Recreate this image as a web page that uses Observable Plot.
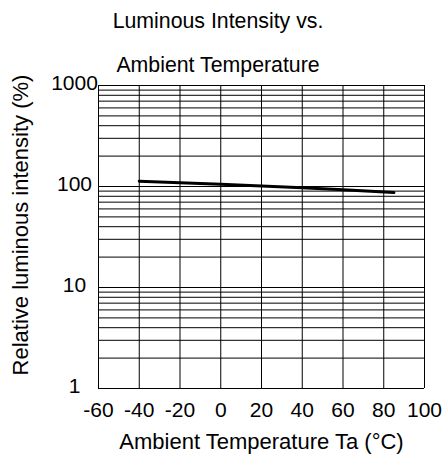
<!DOCTYPE html>
<html>
<head>
<meta charset="utf-8">
<script src="https://cdn.jsdelivr.net/npm/d3@7"></script>
<script src="https://cdn.jsdelivr.net/npm/@observablehq/plot@0.6"></script>
<style>
  html, body { margin: 0; padding: 0; background: #fff; }
  #wrap { position: relative; width: 445px; height: 466px; font-family: "Liberation Sans", Arial, sans-serif; }
  #title { position: absolute; left: 0; top: -1px; width: 436px; text-align: center; font-size: 21.3px; line-height: 44px; color: #000; z-index: 2; pointer-events: none; }
</style>
</head>
<body>
<div id="wrap">
  <div id="title">Luminous Intensity vs.<br>Ambient Temperature</div>
  <div id="chart"></div>
</div>
<script>
const titleLines = ["Luminous Intensity vs.", "Ambient Temperature"];
const xLabel = "Ambient Temperature Ta (°C)";
const yLabel = "Relative luminous intensity (%)";
const xTicks = [-60, -40, -20, 0, 20, 40, 60, 80, 100];
const yTicks = [1, 10, 100, 1000];
const yGrid = [1, 2, 3, 4, 5, 6, 7, 8, 9, 10, 20, 30, 40, 50, 60, 70, 80, 90, 100, 200, 300, 400, 500, 600, 700, 800, 900, 1000];
const temps = [-40, -20, 0, 20, 40, 60, 85];
const intensity = [113, 109, 105, 101, 97, 93, 87];

const data = temps.map((t, i) => ({t, v: intensity[i]}));

const chart = Plot.plot({
  width: 445,
  height: 466,
  marginTop: 85,
  marginBottom: 78,
  marginLeft: 98,
  marginRight: 21,
  x: {domain: [-60, 100]},
  y: {type: "log", domain: [1, 1000]},
  style: {fontFamily: "'Liberation Sans', Arial, sans-serif", fontSize: "21px", color: "#000", background: "#fff", overflow: "visible"},
  marks: [
    Plot.ruleX(xTicks, {stroke: "#000", strokeWidth: 1}),
    Plot.ruleY(yGrid, {stroke: "#000", strokeWidth: 1}),
    Plot.line(data, {x: "t", y: "v", stroke: "#000", strokeWidth: 3}),
    Plot.axisX(xTicks, {tickSize: 0, tickPadding: 14, tickFormat: d => String(d), label: null, fontSize: 21}),
    Plot.axisY(yTicks, {tickSize: 0, tickPadding: 24, textAnchor: "middle", dy: -2, tickFormat: d => String(d), label: null, fontSize: 21}),
    Plot.text([xLabel], {frameAnchor: "bottom", dy: 53, lineAnchor: "middle", textAnchor: "middle", fontSize: 22, fill: "#000"}),
    Plot.text([yLabel], {frameAnchor: "left", rotate: -90, dx: -78, dy: -12, lineAnchor: "middle", textAnchor: "middle", fontSize: 22, fill: "#000"})
  ]
});
document.getElementById("chart").appendChild(chart);
</script>
</body>
</html>
